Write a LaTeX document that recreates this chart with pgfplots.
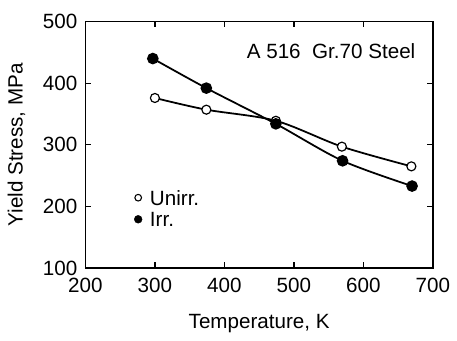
\documentclass[border=0pt]{standalone}
\usepackage{fontspec}
\setmainfont{Liberation Sans}
\usepackage{pgfplots}
\pgfplotsset{compat=1.18}
\begin{document}
\fontsize{21}{23}\selectfont
\begin{tikzpicture}
\begin{axis}[
  scale only axis,
  width=354pt, height=251pt,
  xmin=200, xmax=700, ymin=100, ymax=500,
  xtick={200,300,...,700}, ytick={100,200,...,500},
  tick align=inside,
  major tick length=6pt,
  axis line style={line width=1.8pt},
  every tick/.style={line width=1.3pt, black},
  /pgf/number format/assume math mode=true,
  tick label style={font=\fontsize{21}{23}\selectfont},
  label style={font=\fontsize{21}{23}\selectfont},
  xticklabel style={yshift=-3pt},
  yticklabel style={xshift=-1pt},
  xlabel={Temperature, K},
  ylabel={Yield Stress, MPa},
  xlabel style={at={(axis description cs:0.5,-0.247)}, anchor=base},
  ylabel style={at={(axis description cs:-0.198,0.5)}, anchor=center},
  legend style={at={(axis cs:270,228)}, anchor=north west, draw=none, fill=none,
    font=\fontsize{21}{21}\selectfont, row sep=1pt, inner sep=0pt,
    nodes={inner xsep=8pt, inner ysep=1pt, text height=15pt, text depth=4pt}},
  legend cell align=left,
  legend image code/.code={\draw[#1] plot coordinates {(0pt,2pt)};},
]
\coordinate (SW) at (rel axis cs:0,0);
\coordinate (NE) at (rel axis cs:1,1);
\addplot[black, line width=1.8pt, smooth, mark=*, mark size=4.6pt,
  mark options={fill=white, line width=1.2pt}, forget plot]
  coordinates {(300,376) (374,357) (474,339) (569,297) (669,265)};
\addplot[black, line width=1.8pt, smooth, mark=*, mark size=5pt,
  mark options={fill=black}, forget plot]
  coordinates {(297,440) (374,392) (474,334) (570,274) (670,233)};
\addlegendimage{only marks, mark=*, mark size=3.4pt, mark options={fill=white, line width=1.1pt}}
\addlegendentry{Unirr.}
\addlegendimage{only marks, mark=*, mark size=4pt, mark options={fill=black}}
\addlegendentry{Irr.}
\node[anchor=west, inner sep=0pt, font=\fontsize{21}{23}\selectfont] at (axis cs:432,452) {A 516\ \ Gr.70 Steel};
\end{axis}
\path (SW) ++(-87pt,-65pt) coordinate (BL);
\path (NE) ++(16pt,22pt) coordinate (TR);
\path (BL) rectangle (TR);
\end{tikzpicture}
\end{document}
